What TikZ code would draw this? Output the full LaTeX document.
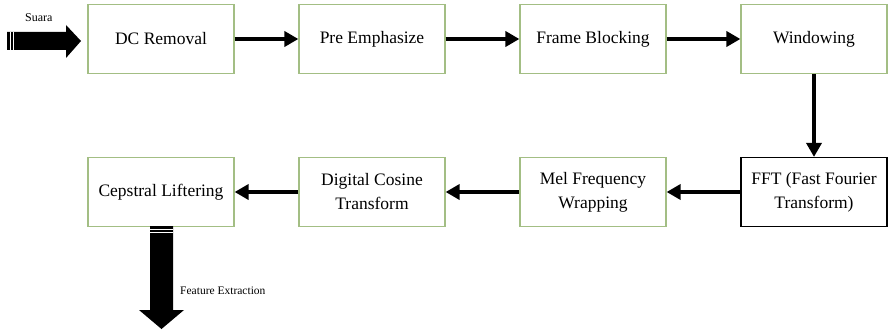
\documentclass[tikz,border=0pt]{standalone}
\usepackage{fontspec}
\setmainfont{Liberation Serif}
\usetikzlibrary{arrows.meta}
\definecolor{boxgreen}{HTML}{A3BE84}
\begin{document}
\begin{tikzpicture}[x=1pt,y=-1pt,
  blk/.style={draw=boxgreen,line width=1.2pt,minimum width=146pt,minimum height=69pt,align=center,font=\fontsize{17.5}{24}\selectfont,inner sep=2pt},
  conn/.style={line width=4.5pt,-{Triangle[length=14pt,width=15pt]}}]
\useasboundingbox (0,0) rectangle (888,329);
\node[blk] (dc) at (161,39) {DC Removal};
\node[blk] (pre) at (372,39) {Pre Emphasize};
\node[blk] (fb) at (593,39) {Frame Blocking};
\node[blk] (win) at (814,39) {Windowing};
\node[blk,draw=black] (fft) at (814,192) {FFT (Fast Fourier\\Transform)};
\node[blk] (mel) at (593,192) {Mel Frequency\\Wrapping};
\node[blk] (dct) at (372,192) {Digital Cosine\\Transform};
\node[blk] (cep) at (161,192) {Cepstral Liftering};
\draw[conn] (dc) -- (pre);
\draw[conn] (pre) -- (fb);
\draw[conn] (fb) -- (win);
\draw[conn] (win) -- (fft);
\draw[conn] (fft) -- (mel);
\draw[conn] (mel) -- (dct);
\draw[conn] (dct) -- (cep);
% input arrow
\fill[black] (7,32) -- (66,32) -- (66,25) -- (81,41) -- (66,58) -- (66,50) -- (7,50) -- cycle;
\draw[white,line width=0.6pt] (10,32) -- (10,50) (13,32) -- (13,50);
\node[anchor=base west,inner sep=0pt,font=\fontsize{12}{14}\selectfont] (suara) at (25,22) {Suara};
% output arrow
\fill[black] (150,226) -- (173,226) -- (173,310) -- (184,310) -- (161.5,329) -- (139,310) -- (150,310) -- cycle;
\draw[white,line width=0.6pt] (150,229) -- (173,229) (150,232) -- (173,232);
\node[anchor=base west,inner sep=0pt,font=\fontsize{11.5}{13}\selectfont] (fe) at (180,294) {Feature Extraction};
\end{tikzpicture}
\end{document}
